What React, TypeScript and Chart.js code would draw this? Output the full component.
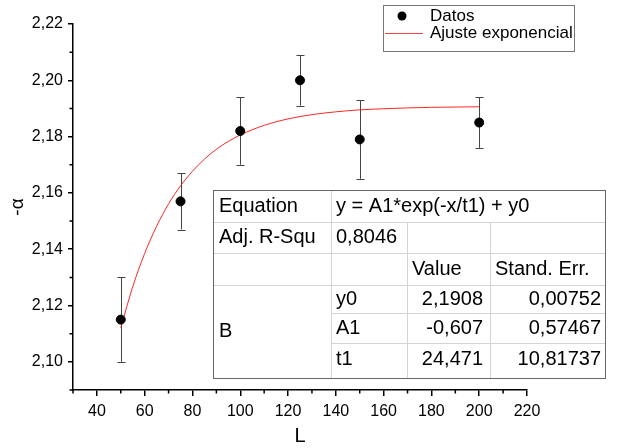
import React, { useEffect, useRef } from "react";
import { Chart, registerables } from "chart.js";

Chart.register(...registerables);

// ---------- data ----------
const L_VALUES = [50, 75, 100, 125, 150, 200];
const ALPHA_VALUES = [2.115, 2.157, 2.182, 2.2, 2.179, 2.185];
const ALPHA_ERRORS = [0.015, 0.01, 0.012, 0.009, 0.014, 0.009];

// fitted curve
const FIT_L = [50, 55, 60, 65, 70, 75, 80, 85, 90, 95, 100, 110, 120, 130, 140, 150, 160, 170, 180, 190, 200];
const FIT_ALPHA = [2.1121, 2.1267, 2.1385, 2.1482, 2.1561, 2.1625, 2.1677, 2.172, 2.1755, 2.1783, 2.1806, 2.184, 2.1863, 2.1878, 2.1888, 2.1895, 2.1899, 2.1902, 2.1904, 2.1905, 2.1906];

const X_MAJOR_TICKS = [40, 60, 80, 100, 120, 140, 160, 180, 200, 220];
const X_MINOR_TICKS = [30, 50, 70, 90, 110, 130, 150, 170, 190, 210];
const Y_MAJOR_TICKS = [2.1, 2.12, 2.14, 2.16, 2.18, 2.2, 2.22];
const Y_MINOR_TICKS = [2.09, 2.11, 2.13, 2.15, 2.17, 2.19, 2.21];

const LEGEND_LABELS = ["Datos", "Ajuste exponencial"];

const EQUATION = "y = A1*exp(-x/t1) + y0";
const ADJ_R2 = "0,8046";
const PARAM_NAMES = ["y0", "A1", "t1"];
const PARAM_VALUES = ["2,1908", "-0,607", "24,471"];
const PARAM_ERRORS = ["0,00752", "0,57467", "10,81737"];

const FONT = "'Liberation Sans', Arial, sans-serif";

const errorBarPlugin = {
  id: "errorBars",
  beforeDatasetsDraw(chart: any) {
    const { ctx, scales } = chart;
    const xs = scales.x;
    const ys = scales.y;
    ctx.save();
    ctx.strokeStyle = "#444";
    ctx.lineWidth = 1;
    L_VALUES.forEach((lv, i) => {
      const px = Math.round(xs.getPixelForValue(lv)) + 0.5;
      const top = ys.getPixelForValue(ALPHA_VALUES[i] + ALPHA_ERRORS[i]);
      const bot = ys.getPixelForValue(ALPHA_VALUES[i] - ALPHA_ERRORS[i]);
      ctx.beginPath();
      ctx.moveTo(px, top);
      ctx.lineTo(px, bot);
      ctx.moveTo(px - 4, Math.round(top) + 0.5);
      ctx.lineTo(px + 4, Math.round(top) + 0.5);
      ctx.moveTo(px - 4, Math.round(bot) + 0.5);
      ctx.lineTo(px + 4, Math.round(bot) + 0.5);
      ctx.stroke();
    });
    ctx.restore();
  },
};

const minorTickPlugin = {
  id: "minorTicks",
  afterDraw(chart: any) {
    const { ctx, scales, chartArea } = chart;
    ctx.save();
    ctx.strokeStyle = "#000";
    ctx.lineWidth = 1.5;
    ctx.beginPath();
    X_MINOR_TICKS.forEach((v) => {
      const px = scales.x.getPixelForValue(v);
      ctx.moveTo(px, chartArea.bottom);
      ctx.lineTo(px, chartArea.bottom + 3.5);
    });
    Y_MINOR_TICKS.forEach((v) => {
      const py = scales.y.getPixelForValue(v);
      ctx.moveTo(chartArea.left, py);
      ctx.lineTo(chartArea.left - 3.5, py);
    });
    ctx.stroke();
    ctx.restore();
  },
};

const legendPlugin = {
  id: "customLegend",
  afterDraw(chart: any) {
    const { ctx } = chart;
    ctx.save();
    const x0 = 383.5, y0 = 5.5, w = 191, h = 46;
    ctx.fillStyle = "#fff";
    ctx.fillRect(x0, y0, w, h);
    ctx.strokeStyle = "#777";
    ctx.lineWidth = 1;
    ctx.strokeRect(x0, y0, w, h);
    // dot
    ctx.fillStyle = "#000";
    ctx.beginPath();
    ctx.arc(402, 16, 4.5, 0, Math.PI * 2);
    ctx.fill();
    // line
    ctx.strokeStyle = "rgba(255,0,0,0.75)";
    ctx.beginPath();
    ctx.moveTo(385, 33.5);
    ctx.lineTo(423, 33.5);
    ctx.stroke();
    ctx.fillStyle = "#000";
    ctx.font = `17px ${FONT}`;
    ctx.textBaseline = "middle";
    ctx.textAlign = "left";
    ctx.fillText(LEGEND_LABELS[0], 430, 16);
    ctx.fillText(LEGEND_LABELS[1], 430, 33);
    ctx.restore();
  },
};

const tablePlugin = {
  id: "fitTable",
  afterDraw(chart: any) {
    const { ctx } = chart;
    const L = 213.5, R = 605.5, T = 190.5, B = 378.5;
    const c1 = 331.5, c2 = 407.5, c3 = 490.5;
    const r1 = 222.5, r2 = 253.5, r3 = 285.5, r4 = 313.5, r5 = 343.5;
    ctx.save();
    ctx.fillStyle = "#fff";
    ctx.fillRect(L, T, R - L, B - T);
    ctx.strokeStyle = "#d4d4d4";
    ctx.lineWidth = 1;
    ctx.beginPath();
    ctx.moveTo(c1, T); ctx.lineTo(c1, B);
    ctx.moveTo(c2, r1); ctx.lineTo(c2, B);
    ctx.moveTo(c3, r1); ctx.lineTo(c3, B);
    ctx.moveTo(L, r1); ctx.lineTo(R, r1);
    ctx.moveTo(L, r2); ctx.lineTo(R, r2);
    ctx.moveTo(L, r3); ctx.lineTo(R, r3);
    ctx.moveTo(c1, r4); ctx.lineTo(R, r4);
    ctx.moveTo(c1, r5); ctx.lineTo(R, r5);
    ctx.stroke();
    ctx.strokeStyle = "#666";
    ctx.strokeRect(L, T, R - L, B - T);

    ctx.fillStyle = "#000";
    ctx.font = `20px ${FONT}`;
    ctx.textBaseline = "middle";
    ctx.textAlign = "left";
    ctx.fillText("Equation", 219, 206);
    ctx.fillText(EQUATION, 336, 206);
    ctx.fillText("Adj. R-Squ", 219, 237);
    ctx.fillText(ADJ_R2, 336, 237);
    ctx.fillText("Value", 412, 269);
    ctx.fillText("Stand. Err.", 495, 269);
    ctx.fillText("B", 219, 331);
    const rowY = [299, 328, 359];
    PARAM_NAMES.forEach((n, i) => ctx.fillText(n, 336, rowY[i]));
    ctx.textAlign = "right";
    PARAM_VALUES.forEach((v, i) => ctx.fillText(v, 483, rowY[i]));
    PARAM_ERRORS.forEach((v, i) => ctx.fillText(v, 601, rowY[i]));
    ctx.restore();
  },
};

export default function App() {
  const canvasRef = useRef<HTMLCanvasElement | null>(null);

  useEffect(() => {
    document.body.style.margin = "0";
    const canvas = canvasRef.current;
    if (!canvas) return;
    const chart = new Chart(canvas, {
      type: "scatter",
      data: {
        datasets: [
          {
            label: LEGEND_LABELS[0],
            data: L_VALUES.map((x, i) => ({ x, y: ALPHA_VALUES[i] })),
            backgroundColor: "#000",
            borderColor: "#000",
            pointRadius: 4.5,
            pointHoverRadius: 4.5,
            showLine: false,
          },
          {
            label: LEGEND_LABELS[1],
            type: "line",
            data: FIT_L.map((x, i) => ({ x, y: FIT_ALPHA[i] })),
            borderColor: "rgba(255,0,0,0.85)",
            borderWidth: 1,
            pointRadius: 0,
            fill: false,
            cubicInterpolationMode: "monotone",
          } as any,
        ],
      },
      options: {
        responsive: false,
        animation: false,
        devicePixelRatio: 1,
        layout: { padding: { top: 24, right: 90, left: 0, bottom: 0 } },
        plugins: {
          legend: { display: false },
          tooltip: { enabled: false },
        },
        scales: {
          x: {
            type: "linear",
            min: 30,
            max: 220,
            afterFit: (s: any) => {
              s.height = 58;
            },
            afterBuildTicks: (s: any) => {
              s.ticks = X_MAJOR_TICKS.map((v) => ({ value: v }));
            },
            border: { display: true, color: "#000", width: 1.5 },
            grid: {
              display: true,
              drawOnChartArea: false,
              drawTicks: true,
              tickLength: 6,
              color: "#000",
              lineWidth: 1.5,
            },
            ticks: {
              color: "#000",
              padding: 6,
              maxRotation: 0,
              autoSkip: false,
              font: { family: FONT, size: 16 },
              callback: (v: any) => String(v),
            },
            title: {
              display: true,
              text: "L",
              color: "#000",
              font: { family: FONT, size: 20 },
              padding: { top: 0, bottom: 0 },
            },
          },
          y: {
            type: "linear",
            min: 2.09,
            max: 2.22,
            afterFit: (s: any) => {
              s.width = 73;
            },
            afterBuildTicks: (s: any) => {
              s.ticks = Y_MAJOR_TICKS.map((v) => ({ value: v }));
            },
            border: { display: true, color: "#000", width: 1.5 },
            grid: {
              display: true,
              drawOnChartArea: false,
              drawTicks: true,
              tickLength: 5,
              color: "#000",
              lineWidth: 1.5,
            },
            ticks: {
              color: "#000",
              padding: 5,
              autoSkip: false,
              font: { family: FONT, size: 16 },
              callback: (v: any) => Number(v).toFixed(2).replace(".", ","),
            },
            title: {
              display: true,
              text: "-\u03b1",
              color: "#000",
              font: { family: FONT, size: 19 },
              padding: { top: 6, bottom: 0 },
            },
          },
        },
      },
      plugins: [errorBarPlugin, minorTickPlugin, tablePlugin, legendPlugin],
    });
    return () => chart.destroy();
  }, []);

  return (
    <div style={{ width: 617, height: 448, background: "#fff" }}>
      <canvas ref={canvasRef} width={617} height={448} style={{ display: "block" }} />
    </div>
  );
}
